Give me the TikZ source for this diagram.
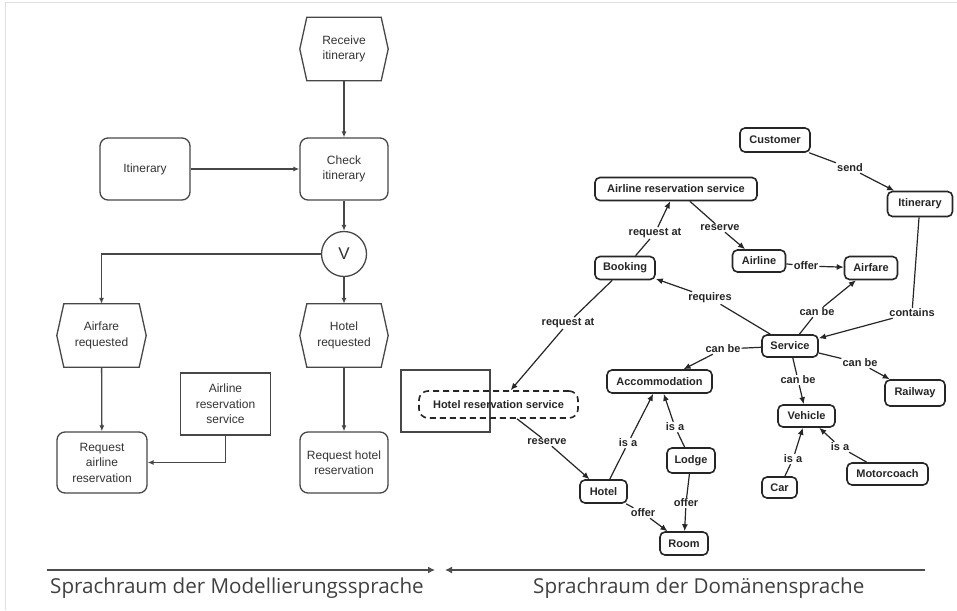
\documentclass[tikz,border=0pt]{standalone}
\usepackage{fontspec}
\setmainfont{Liberation Sans}
\newfontfamily\bottomfont{Open Sans}
\usetikzlibrary{arrows.meta}
\newcommand\lfont{\fontsize{12}{15.5}\selectfont}
\newcommand\cfont{\bfseries\fontsize{11}{13}\selectfont}
\tikzset{
  x=1pt, y=-1pt,
  lline/.style={draw=black!72, line width=1.3pt},
  ltip/.style={-{Latex[length=6pt,width=5pt]}},
  lbox/.style={lline, rounded corners=8pt, minimum width=88pt, minimum height=62pt, align=center, font=\lfont, text=black!80},
  lrect/.style={lline, minimum width=90pt, minimum height=62pt, align=center, font=\lfont, text=black!80},
  hexnode/.style={minimum width=88pt, minimum height=63pt, align=center, font=\lfont, text=black!80},
  cnode/.style={draw=black!85, line width=1.6pt, rounded corners=5pt, font=\cfont, inner sep=1pt, minimum height=23pt, text=black!85},
  clbl/.style={font=\cfont, fill=white, inner sep=1pt, text=black!85},
  cedge/.style={draw=black!85, line width=1.2pt},
  ctip/.style={cedge, -{Latex[length=7pt,width=6pt]}},
  bline/.style={draw=black!70, line width=1.3pt},
  btip/.style={-{Latex[length=7pt,width=7pt]}},
  btext/.style={font=\bottomfont\fontsize{20.6}{24}\selectfont, text=black!75, anchor=base west, inner sep=0pt}
}
\newcommand\hexdraw[1]{\draw[lline] ([xshift=7pt]#1.north west) -- ([xshift=-7pt]#1.north east) -- (#1.east) -- ([xshift=-7pt]#1.south east) -- ([xshift=7pt]#1.south west) -- (#1.west) -- cycle;}
\begin{document}
\begin{tikzpicture}
\useasboundingbox[fill=white] (0,0) rectangle (957,610);
% faint scan frame
\draw[black!12, line width=1pt] (5,610) -- (5,3) -- (957,3);

% ---------------- left: process model ----------------
\node[hexnode] (recv) at (344,49) {Receive\\itinerary};
\hexdraw{recv}
\node[lbox] (check) at (344,169) {Check\\itinerary};
\node[lbox, minimum width=90pt] (itin) at (145,169) {Itinerary};
\node[lline, circle, minimum size=45pt, inner sep=0pt, font=\fontsize{17}{17}\selectfont, text=black!80] (vor) at (344,254) {V};
\node[hexnode, minimum width=89pt] (airreq) at (101.5,335.5) {Airfare\\requested};
\hexdraw{airreq}
\node[hexnode] (hotreq) at (344,335.5) {Hotel\\requested};
\hexdraw{hotreq}
\node[lrect] (ars) at (225.5,404) {Airline\\reservation\\service};
\node[lbox, minimum width=90pt, minimum height=61pt] (reqair) at (102,462.5) {Request\\airline\\reservation};
\node[lbox, minimum height=61pt] (reqhot) at (344,462.5) {Request hotel\\reservation};

\draw[lline, ltip] (recv) -- (check);
\draw[lline, ltip] (itin) -- (check);
\draw[lline, ltip] (check) -- (vor);
\draw[lline, ltip] (vor.west) -| (airreq.north);
\draw[lline, ltip] (vor) -- (hotreq);
\draw[lline, ltip] (airreq) -- (reqair);
\draw[lline, ltip] (hotreq) -- (reqhot);
\draw[lline, ltip] (ars.south) |- (reqair.east);

% ---------------- right: domain concept map ----------------
\node[lline, minimum width=89pt, minimum height=62pt] (hrsbox) at (445.5,401) {};
\node[cnode, dashed, dash pattern=on 6pt off 4pt, rounded corners=9pt, minimum width=159pt, minimum height=27pt] (hrs) at (498.5,404.5) {Hotel reservation service};

\node[cnode, minimum width=70pt, minimum height=24pt] (cust) at (775,140) {Customer};
\node[cnode, minimum width=65pt, minimum height=25pt] (itin2) at (920,204) {Itinerary};
\node[cnode, minimum width=162pt] (arsc) at (676,189) {Airline reservation service};
\node[cnode, minimum width=60pt, minimum height=23pt] (book) at (625,268) {Booking};
\node[cnode, minimum width=53pt, minimum height=22pt] (airline) at (759,261) {Airline};
\node[cnode, minimum width=53pt] (airfare) at (871,268) {Airfare};
\node[cnode, minimum width=56pt, minimum height=22pt] (service) at (790,346) {Service};
\node[cnode, minimum width=105pt] (accom) at (659.5,381.5) {Accommodation};
\node[cnode, minimum width=60pt, minimum height=26pt] (railway) at (915,393) {Railway};
\node[cnode, minimum width=57pt, minimum height=22pt] (vehicle) at (806.5,416) {Vehicle};
\node[cnode, minimum width=47pt] (hotel) at (603.5,491.5) {Hotel};
\node[cnode, minimum width=48pt, minimum height=25pt] (lodge) at (691,460.5) {Lodge};
\node[cnode, minimum width=35pt, minimum height=21pt] (car) at (779.5,487.5) {Car};
\node[cnode, minimum width=81pt, minimum height=22pt] (motor) at (887.5,474) {Motorcoach};
\node[cnode, minimum width=48pt] (room) at (684,543.5) {Room};

% edge labels
\node[clbl] (lsend) at (850,168) {send};
\node[clbl] (lra1) at (655,233) {request at};
\node[clbl] (lres1) at (720,228) {reserve};
\node[clbl] (loff1) at (806,266) {offer};
\node[clbl] (lreq) at (710,298) {requires};
\node[clbl] (lcb1) at (817,312) {can be};
\node[clbl] (lcont) at (912,313) {contains};
\node[clbl] (lra2) at (568,323) {request at};
\node[clbl] (lcb2) at (723,349) {can be};
\node[clbl] (lcb3) at (798,380) {can be};
\node[clbl] (lcb4) at (860,363) {can be};
\node[clbl] (lres2) at (547,442) {reserve};
\node[clbl] (lisa1) at (628,443) {is a};
\node[clbl] (lisa2) at (675,427) {is a};
\node[clbl] (loff2) at (643,513) {offer};
\node[clbl] (loff3) at (686,503) {offer};
\node[clbl] (lisa3) at (793,459) {is a};
\node[clbl] (lisa4) at (840,447) {is a};

% edges
\draw[cedge] (cust) -- (lsend); \draw[ctip] (lsend) -- (itin2);
\draw[cedge] (book) -- (lra1); \draw[ctip] (lra1) -- (arsc);
\draw[cedge] (arsc) -- (lres1); \draw[ctip] (lres1) -- (airline);
\draw[cedge] (airline) -- (loff1); \draw[ctip] (loff1) -- (airfare);
\draw[cedge] (service) -- (lreq); \draw[ctip] (lreq) -- (book);
\draw[cedge] (service) -- (lcb1); \draw[ctip] (lcb1) -- (airfare);
\draw[cedge] (itin2) -- (lcont); \draw[ctip] (lcont) -- (service);
\draw[cedge] (book) -- (lra2); \draw[ctip] (lra2) -- (hrs);
\draw[cedge] (service) -- (lcb2); \draw[ctip] (lcb2) -- (accom);
\draw[cedge] (service) -- (lcb3); \draw[ctip] (lcb3) -- (vehicle);
\draw[cedge] (service) -- (lcb4); \draw[ctip] (lcb4) -- (railway);
\draw[cedge] (hrs) -- (lres2); \draw[ctip] (lres2) -- (hotel);
\draw[cedge] (hotel) -- (lisa1); \draw[ctip] (lisa1) -- (accom);
\draw[cedge] (lodge) -- (lisa2); \draw[ctip] (lisa2) -- (accom);
\draw[cedge] (hotel) -- (loff2); \draw[ctip] (loff2) -- (room);
\draw[cedge] (lodge) -- (loff3); \draw[ctip] (loff3) -- (room);
\draw[cedge] (car) -- (lisa3); \draw[ctip] (lisa3) -- (vehicle);
\draw[cedge] (motor) -- (lisa4); \draw[ctip] (lisa4) -- (vehicle);

% ---------------- bottom: language spaces ----------------
\coordinate (bl0) at (47,570);
\coordinate (bl1) at (435,570);
\coordinate (br1) at (445,570);
\coordinate (br0) at (925,570);
\draw[bline, btip] (bl0) -- (bl1);
\draw[bline, btip] (br0) -- (br1);
\node[btext] (tl) at (50,593) {Sprachraum der Modellierungssprache};
\node[btext] (tr) at (533,593) {Sprachraum der Domänensprache};
\end{tikzpicture}
\end{document}
